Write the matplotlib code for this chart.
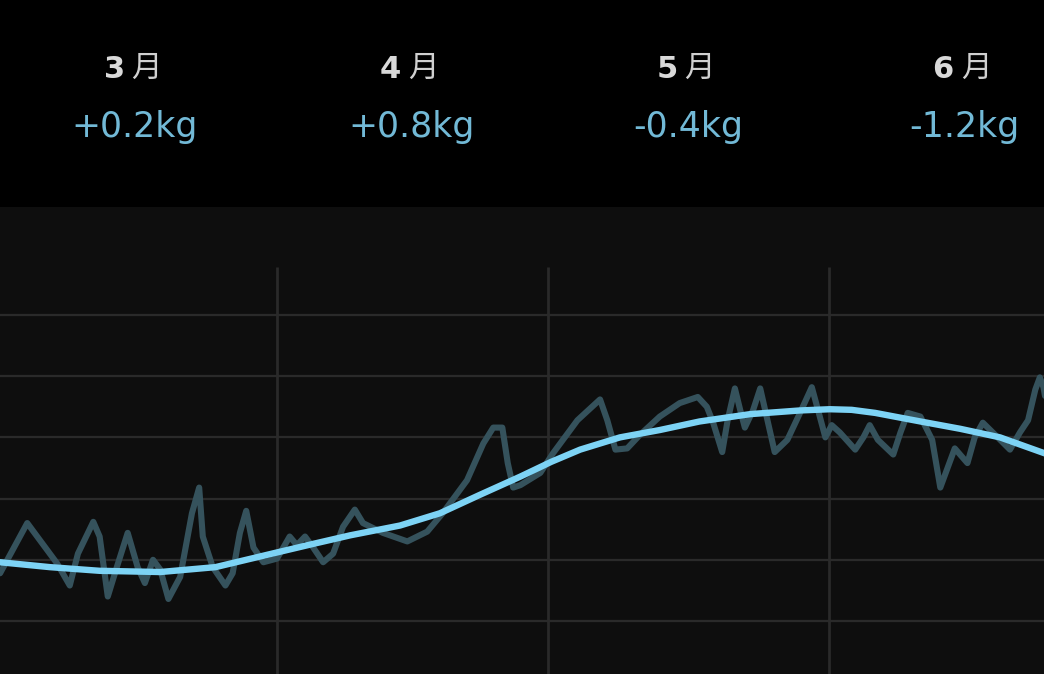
import numpy as np
import matplotlib.pyplot as plt

# months shown on top with the monthly change
months = ['3', '4', '5', '6']
changes = ['+0.2kg', '+0.8kg', '-0.4kg', '-1.2kg']

# month starts in days since 1 March (vertical lines)
month_start = [31, 61, 92]

# raw weight readings (day since 1 March, kg)
raw_day = [0.4, 3.4, 6.7, 8.1, 9.0, 10.7, 11.4, 12.3, 13.3, 14.5, 15.6, 16.4, 17.3, 18.1,
           19.0, 20.3, 21.6, 22.4, 22.8, 23.9, 25.3, 26.1, 26.9, 27.6, 28.4, 29.5, 31.0,
           32.4, 33.2, 34.1, 35.0, 36.1, 37.2, 38.3, 39.6, 40.5, 42.7, 45.4, 47.6, 49.3,
           52.0, 53.8, 54.9, 55.9, 56.5, 57.1, 57.9, 60.1, 61.5, 64.2, 66.7, 67.5, 68.4,
           69.7, 71.1, 73.3, 75.5, 77.5, 78.5, 79.2, 80.2, 80.8, 81.6, 82.2, 82.7, 83.6,
           84.4, 85.2, 86.0, 87.4, 88.8, 90.1, 90.8, 91.6, 92.3, 93.2, 94.9, 95.8, 96.5,
           97.4, 99.1, 99.9, 100.7, 102.1, 103.4, 104.3, 105.0, 105.9, 107.3, 108.1,
           109.0, 110.1, 112.0, 113.1, 114.0, 114.8, 115.3, 115.7, 116.2]
raw_kg = [59.89, 60.30, 59.97, 59.79, 60.05, 60.31, 60.19, 59.70, 59.94, 60.22, 59.94,
          59.81, 60.00, 59.92, 59.68, 59.86, 60.38, 60.59, 60.19, 59.94, 59.79, 59.89,
          60.22, 60.40, 60.10, 59.98, 60.01, 60.19, 60.12, 60.19, 60.10, 59.98, 60.05,
          60.27, 60.41, 60.30, 60.22, 60.15, 60.23, 60.38, 60.65, 60.95, 61.08, 61.08,
          60.79, 60.59, 60.61, 60.71, 60.87, 61.14, 61.31, 61.14, 60.90, 60.91, 61.02,
          61.17, 61.28, 61.33, 61.25, 61.12, 60.88, 61.14, 61.40, 61.22, 61.08, 61.22,
          61.40, 61.14, 60.88, 60.98, 61.20, 61.41, 61.22, 61.00, 61.10, 61.04, 60.90,
          61.00, 61.10, 60.98, 60.86, 61.04, 61.20, 61.17, 60.98, 60.59, 60.73, 60.91,
          60.79, 61.00, 61.12, 61.04, 60.90, 61.04, 61.14, 61.39, 61.49, 61.41, 61.20]

# trend line
trend_day = [0.4, 5.9, 11.4, 18.1, 24.2, 31.0, 35.0, 39.1, 44.6, 49.0, 53.4, 57.9, 61.3,
             64.5, 68.9, 73.3, 77.7, 83.3, 88.8, 92.1, 94.5, 97.1, 102.1, 106.5, 110.9, 116.2]
trend_kg = [59.98, 59.94, 59.91, 59.90, 59.94, 60.06, 60.13, 60.20, 60.28, 60.38, 60.53,
            60.68, 60.80, 60.90, 61.00, 61.06, 61.13, 61.19, 61.22, 61.23, 61.225, 61.20,
            61.13, 61.07, 61.00, 60.86]

grid_kg = [59.5, 60.0, 60.5, 61.0, 61.5, 62.0]

fig = plt.figure(figsize=(10.44, 6.74), dpi=100, facecolor='#000000')
ax = fig.add_axes([0, 0, 1, 467 / 674])
ax.set_facecolor('#0e0e0e')
ax.set_xlim(0.39, 115.76)
ax.set_ylim(59.067, 62.882)
for s in ax.spines.values():
    s.set_visible(False)
ax.set_xticks([])
ax.set_yticks([])

for g in grid_kg:
    ax.axhline(g, color='#2a2a2a', lw=1.6, zorder=1)
ax.vlines(month_start, 59.067, 62.392, color='#2a2a2a', lw=2, zorder=1)

ax.plot(raw_day, raw_kg, color='#35525c', lw=4.4, solid_joinstyle='round',
        solid_capstyle='round', zorder=2)
ax.plot(trend_day, trend_kg, color='#7dd3f5', lw=4.6, solid_joinstyle='round',
        solid_capstyle='round', zorder=3)

# header labels (pixel centres)
num_x = [115, 390, 667, 943]
yue_x = [146, 423, 699, 976]
val_x = [135, 412, 688, 964]
for m, c, nx, yx, vx in zip(months, changes, num_x, yue_x, val_x):
    fig.text(nx / 1044, 1 - 69 / 674, m, color='#d9d9d9', fontsize=22,
             fontweight='bold', ha='center', va='center', family=['DejaVu Sans'])
    fig.text(yx / 1044, 1 - 68 / 674, '月', color='#d0d0d0', fontsize=22,
             fontweight='light', ha='center', va='center',
             family=['Noto Sans CJK SC', 'DejaVu Sans'])
    fig.text(vx / 1044, 1 - 127 / 674, c, color='#72b9d6', fontsize=25,
             ha='center', va='center', family=['DejaVu Sans'])

fig.savefig('out.png', dpi=100, facecolor='#000000')
